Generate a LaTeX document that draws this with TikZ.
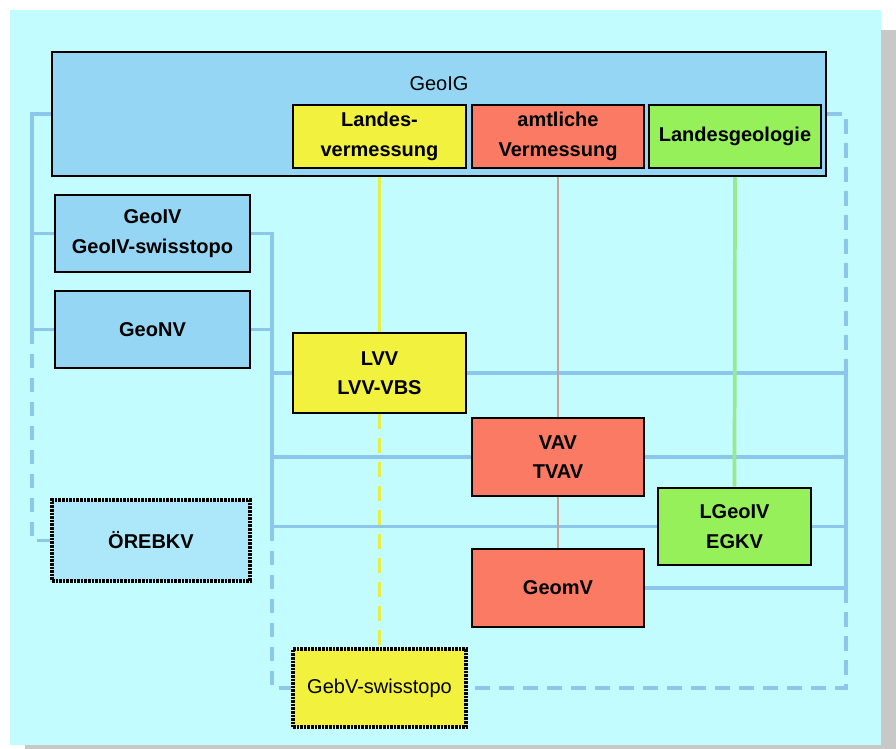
\documentclass[tikz,border=0pt]{standalone}
\usepackage{fontspec}
\setmainfont{Liberation Sans}
\pgfdeclarelayer{back}
\pgfdeclarelayer{lines}
\pgfsetlayers{back,lines,main}
\definecolor{bgcyan}{RGB}{195,252,255}
\definecolor{shadowgray}{RGB}{200,200,200}
\definecolor{geoblue}{RGB}{150,214,245}
\definecolor{orebblue}{RGB}{172,232,250}
\definecolor{boxyellow}{RGB}{242,242,62}
\definecolor{boxsalmon}{RGB}{250,122,100}
\definecolor{boxgreen}{RGB}{150,240,90}
\definecolor{connblue}{RGB}{140,198,235}
\definecolor{lineyellow}{RGB}{232,240,60}
\definecolor{linesalmon}{RGB}{200,160,150}
\definecolor{linegreen}{RGB}{150,235,140}
\tikzset{
  box/.style={draw=black, line width=2pt, inner sep=0pt, align=center,
    font=\fontsize{15}{22}\selectfont\bfseries},
  sz/.style 2 args={minimum width=#1*0.75pt, minimum height=#2*0.75pt},
  dottedbox/.style={box, dash pattern=on 2pt off 0.7pt, line width=2.4pt},
  conn/.style={draw=connblue, line width=2.5pt},
  conndash/.style={conn, dash pattern=on 11pt off 7pt},
  yline/.style={draw=lineyellow, line width=2.8pt},
  sline/.style={draw=linesalmon, line width=1.6pt},
  gline/.style={draw=linegreen, line width=2.8pt}
}
\begin{document}
\begin{tikzpicture}[x=0.75pt,y=-0.75pt]
\useasboundingbox (0,0) rectangle (896,749);
\begin{pgfonlayer}{back}
\fill[white] (0,0) rectangle (896,749);
\fill[shadowgray] (25,30) rectangle (896,749);
\fill[bgcyan] (10,10) rectangle (881,745);
\end{pgfonlayer}

% nodes
\node[box, fill=geoblue, sz={774}{124},
  label={[anchor=center, yshift=-24.75pt, font=\fontsize{15}{22}\selectfont]north:GeoIG}] (GeoIG) at (439,114) {};
\node[box, fill=boxyellow, sz={173}{63}] (LandV) at (379.5,136.5) {Landes-\\vermessung};
\node[box, fill=boxsalmon, sz={172}{63}] (AmtV) at (558,136.5) {amtliche\\Vermessung};
\node[box, fill=boxgreen, sz={172}{63}] (LGeo) at (735,136.5) {Landesgeologie};
\node[box, fill=geoblue, sz={195}{77}] (GeoIV) at (152.5,233.5) {GeoIV\\GeoIV-swisstopo};
\node[box, fill=geoblue, sz={195}{77}] (GeoNV) at (152.5,329.5) {GeoNV};
\node[box, fill=boxyellow, sz={173}{80}] (LVV) at (379.5,373) {LVV\\LVV-VBS};
\node[box, fill=boxsalmon, sz={172}{78}] (VAV) at (558,457) {VAV\\TVAV};
\node[box, fill=boxgreen, sz={153}{77}] (LGeoIV) at (734.5,526.5) {LGeoIV\\EGKV};
\node[box, fill=boxsalmon, sz={172}{78}] (GeomV) at (558,588) {GeomV};
\node[dottedbox, fill=orebblue, sz={198}{81}] (OREB) at (151,540.5) {ÖREBKV};
\node[dottedbox, fill=boxyellow, sz={173}{78},
  font=\fontsize{15}{22}\selectfont] (GebV) at (379.5,688) {GebV-swisstopo};

\coordinate (lx) at (32,0);
\coordinate (mx) at (272,0);
\coordinate (rx) at (846,0);

\begin{pgfonlayer}{lines}
% left bus
\draw[conn] (GeoIG.west) -- (GeoIG.west -| lx) -- (GeoNV.west -| lx) -- (GeoNV.west);
\draw[conn] (GeoIV.west) -- (GeoIV.west -| lx);
\draw[conndash] (GeoNV.west -| lx) -- (OREB.west -| lx) -- (OREB.west);

% middle bus
\draw[conn] (GeoIV.east) -- (GeoIV.east -| mx) -- (LGeoIV.west -| mx);
\draw[conn] (GeoNV.east) -- (GeoNV.east -| mx);
\draw[conn] (LVV.west -| mx) -- (LVV.west);
\draw[conn] (VAV.west -| mx) -- (VAV.west);
\draw[conn] (LGeoIV.west -| mx) -- (LGeoIV.west);
\draw[conndash] (LGeoIV.west -| mx) -- (GebV.west -| mx) -- (GebV.west);

% right bus
\draw[conndash] (GeoIG.east) -- (GeoIG.east -| rx) -- (LVV.east -| rx);
\draw[conn] (LVV.east -| rx) -- (GeomV.east -| rx);
\draw[conn] (LVV.east) -- (LVV.east -| rx);
\draw[conn] (VAV.east) -- (VAV.east -| rx);
\draw[conn] (LGeoIV.east) -- (LGeoIV.east -| rx);
\draw[conn] (GeomV.east) -- (GeomV.east -| rx);
\draw[conndash] (GeomV.east -| rx) -- (GebV.east -| rx) -- (GebV.east);

% coloured verticals
\draw[yline] (LandV.south) -- (LVV.north);
\draw[yline, dash pattern=on 11pt off 7pt] (LVV.south) -- (GebV.north);
\draw[sline] (AmtV.south) -- (VAV.north);
\draw[sline] (VAV.south) -- (GeomV.north);
\draw[gline] (LGeo.south) -- (LGeoIV.north);
\end{pgfonlayer}
\end{tikzpicture}
\end{document}
